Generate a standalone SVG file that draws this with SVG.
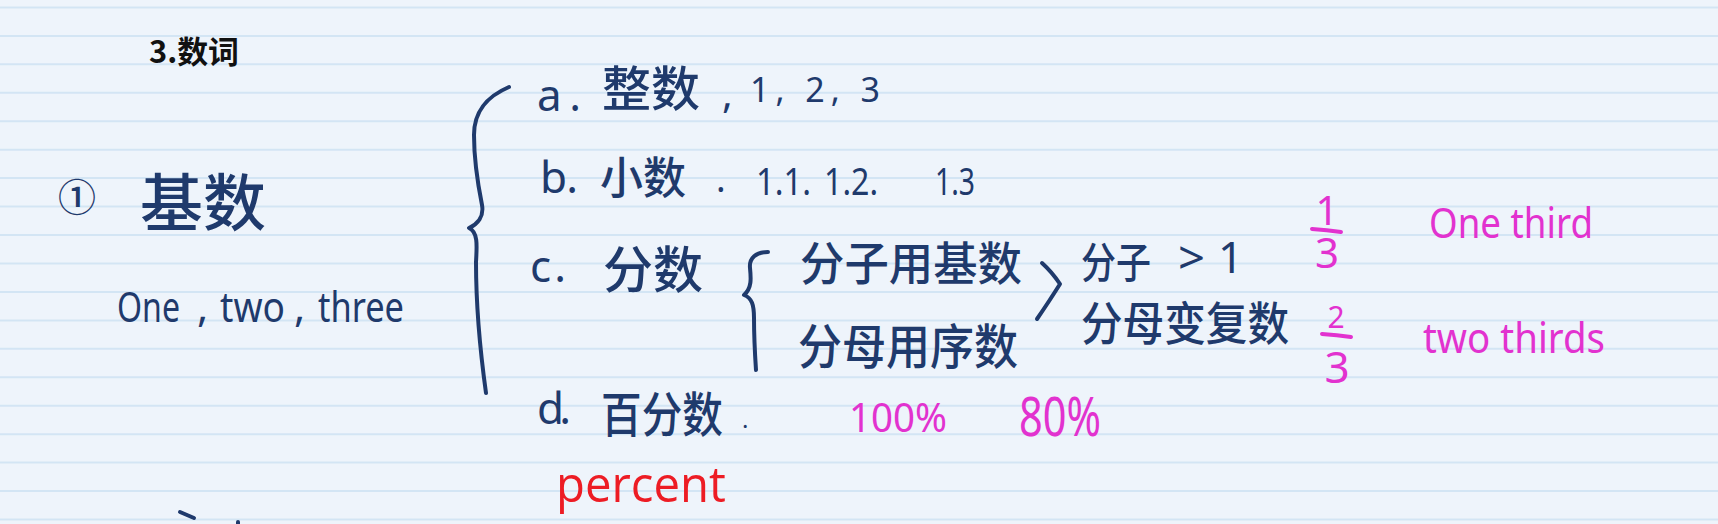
<svg xmlns="http://www.w3.org/2000/svg" width="1718" height="524" viewBox="0 0 1718 524">
<defs>
<style>
.bg{fill:#eef4fb}
.rule{stroke:#d3e5f4;stroke-width:2}
.ink{fill:#1f3a6c}
.cjk{font-family:'Noto Sans CJK SC',sans-serif;font-weight:500}
.lat{font-family:'Noto Sans','Noto Sans CJK SC',sans-serif;font-weight:400}
.pink{fill:#e232cf;font-family:'Noto Sans',sans-serif}
.stroke{fill:none;stroke:#1f3a6c;stroke-width:4;stroke-linecap:round;stroke-linejoin:round}
.pbar{fill:none;stroke:#e232cf;stroke-width:4;stroke-linecap:round}
</style>
</defs>
<rect class="bg" x="0" y="0" width="1718" height="524"/>
<g id="ruled-lines">
<line class="rule" x1="0" y1="7.4" x2="1718" y2="7.4"/>
<line class="rule" x1="0" y1="35.9" x2="1718" y2="35.9"/>
<line class="rule" x1="0" y1="64.3" x2="1718" y2="64.3"/>
<line class="rule" x1="0" y1="92.8" x2="1718" y2="92.8"/>
<line class="rule" x1="0" y1="121.2" x2="1718" y2="121.2"/>
<line class="rule" x1="0" y1="149.7" x2="1718" y2="149.7"/>
<line class="rule" x1="0" y1="178.1" x2="1718" y2="178.1"/>
<line class="rule" x1="0" y1="206.6" x2="1718" y2="206.6"/>
<line class="rule" x1="0" y1="235" x2="1718" y2="235"/>
<line class="rule" x1="0" y1="263.5" x2="1718" y2="263.5"/>
<line class="rule" x1="0" y1="291.9" x2="1718" y2="291.9"/>
<line class="rule" x1="0" y1="320.4" x2="1718" y2="320.4"/>
<line class="rule" x1="0" y1="348.8" x2="1718" y2="348.8"/>
<line class="rule" x1="0" y1="377.3" x2="1718" y2="377.3"/>
<line class="rule" x1="0" y1="405.7" x2="1718" y2="405.7"/>
<line class="rule" x1="0" y1="434.2" x2="1718" y2="434.2"/>
<line class="rule" x1="0" y1="462.6" x2="1718" y2="462.6"/>
<line class="rule" x1="0" y1="491.1" x2="1718" y2="491.1"/>
<line class="rule" x1="0" y1="519.5" x2="1718" y2="519.5"/>
</g>

<g id="title">
<text x="149" y="63" font-family="'Noto Sans CJK SC',sans-serif" font-weight="700" font-size="31" fill="#111" textLength="90" lengthAdjust="spacingAndGlyphs">3.数词</text>
</g>

<g id="node-cardinal">
<text class="ink cjk" x="77" y="211" font-size="38" text-anchor="middle">①</text>
<text class="ink cjk" x="140" y="226" font-size="62" textLength="126" lengthAdjust="spacingAndGlyphs">基数</text>
<text class="ink lat" x="117" y="322" font-size="42" textLength="63" lengthAdjust="spacingAndGlyphs">One</text>
<text class="ink lat" x="197" y="322" font-size="42">,</text>
<text class="ink lat" x="220" y="322" font-size="42" textLength="65" lengthAdjust="spacingAndGlyphs">two</text>
<text class="ink lat" x="294" y="322" font-size="42">,</text>
<text class="ink lat" x="318" y="322" font-size="42" textLength="86" lengthAdjust="spacingAndGlyphs">three</text>
</g>

<g id="node-a">
<text class="ink lat" x="537" y="111" font-size="44" textLength="44" lengthAdjust="spacing">a.</text>
<text class="ink cjk" x="602" y="106" font-size="48" textLength="98" lengthAdjust="spacingAndGlyphs">整数</text>
<text class="ink lat" x="722" y="108" font-size="40">,</text>
<text class="ink lat" x="750" y="102" font-size="34" textLength="130" lengthAdjust="spacing">1, 2, 3</text>
</g>

<g id="node-b">
<text class="ink lat" x="540" y="193" font-size="44" textLength="38" lengthAdjust="spacing">b.</text>
<text class="ink cjk" x="600" y="194" font-size="44" textLength="86" lengthAdjust="spacingAndGlyphs">小数</text>
<text class="ink lat" x="716" y="192" font-size="36">.</text>
<text class="ink lat" x="756" y="195" font-size="38" textLength="55" lengthAdjust="spacingAndGlyphs">1.1.</text>
<text class="ink lat" x="824" y="195" font-size="38" textLength="54" lengthAdjust="spacingAndGlyphs">1.2.</text>
<text class="ink lat" x="935" y="195" font-size="38" textLength="40" lengthAdjust="spacingAndGlyphs">1.3</text>
</g>

<g id="node-c">
<text class="ink lat" x="530" y="282" font-size="44" textLength="36" lengthAdjust="spacing">c.</text>
<text class="ink cjk" x="603" y="288" font-size="50" textLength="100" lengthAdjust="spacingAndGlyphs">分数</text>
</g>

<g id="node-numerator">
<text class="ink cjk" x="800" y="280" font-size="46" textLength="222" lengthAdjust="spacingAndGlyphs">分子用基数</text>
</g>

<g id="node-denominator">
<text class="ink cjk" x="798" y="364" font-size="48" textLength="220" lengthAdjust="spacingAndGlyphs">分母用序数</text>
</g>

<g id="node-rule">
<text class="ink cjk" x="1081" y="278" font-size="42" textLength="70" lengthAdjust="spacingAndGlyphs">分子</text>
<text class="ink lat" x="1178" y="274" font-size="46" textLength="27" lengthAdjust="spacingAndGlyphs">&gt;</text>
<text class="ink lat" x="1218" y="273" font-size="44">1</text>
<text class="ink cjk" x="1081" y="340" font-size="46" textLength="208" lengthAdjust="spacingAndGlyphs">分母变复数</text>
</g>

<g id="node-one-third">
<text class="pink" x="1327" y="225" font-size="40" text-anchor="middle">1</text>
<path class="pbar" d="M1312,229 Q1327,230 1341,232"/>
<text class="pink" x="1327" y="268" font-size="42" text-anchor="middle">3</text>
<text class="pink" x="1429" y="238" font-size="42" textLength="164" lengthAdjust="spacingAndGlyphs">One third</text>
</g>

<g id="node-two-thirds">
<text class="pink" x="1336" y="328" font-size="30" text-anchor="middle">2</text>
<path class="pbar" d="M1322,334 Q1337,335 1351,337"/>
<text class="pink" x="1337" y="383" font-size="44" text-anchor="middle">3</text>
<text class="pink" x="1423" y="353" font-size="42" textLength="182" lengthAdjust="spacingAndGlyphs">two thirds</text>
</g>

<g id="node-d">
<text class="ink lat" x="537" y="424" font-size="44" textLength="34" lengthAdjust="spacing">d.</text>
<text class="ink cjk" x="601" y="432" font-size="48" textLength="122" lengthAdjust="spacingAndGlyphs">百分数</text>
<text class="ink lat" x="742" y="428" font-size="24">.</text>
<text class="pink" x="849" y="432" font-size="40" textLength="98" lengthAdjust="spacingAndGlyphs">100%</text>
<text class="pink" x="1019" y="436" font-size="54" textLength="82" lengthAdjust="spacingAndGlyphs">80%</text>
<text x="556" y="502" font-family="'Open Sans','Noto Sans',sans-serif" font-size="50" fill="#ed1c24" textLength="170" lengthAdjust="spacingAndGlyphs">percent</text>
</g>

<g id="connectors">
<path class="stroke" d="M509,87 C488,96 474,110 474,135 C474,160 478,185 482,205 C484,216 478,224 469,228 C478,232 477,245 476,262 C476,300 480,350 486,393"/>
<path class="stroke" d="M768,252 C756,252 749,258 750,268 C751,278 752,288 744,295 C752,298 754,305 754,318 C754,340 755,355 756,370"/>
<path class="stroke" d="M1042,263 Q1052,272 1060,284 Q1050,300 1037,319"/>
</g>

<g id="fragments">
<path class="stroke" d="M180,512 L194,518"/>
<path class="stroke" d="M238,522 L238,524"/>
</g>
</svg>
